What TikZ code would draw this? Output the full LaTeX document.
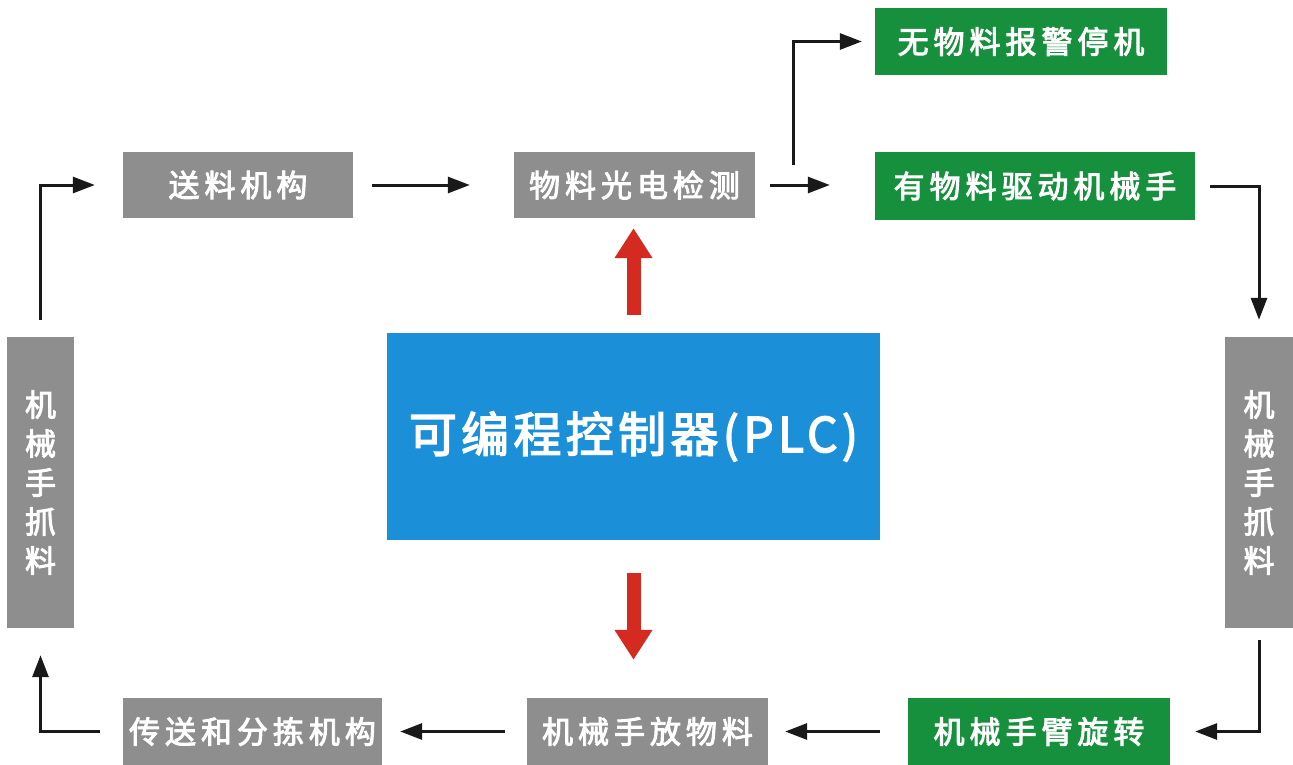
\documentclass[tikz,border=0pt]{standalone}
\usepackage{fontspec}
\newfontfamily\cjk[LetterSpace=16,FakeBold=3]{Noto Sans CJK SC}
\newfontfamily\cjkbig[LetterSpace=9,FakeBold=3]{Noto Sans CJK SC}
\usetikzlibrary{arrows.meta}
\definecolor{boxgray}{HTML}{8E8E8E}
\definecolor{boxgreen}{HTML}{17903E}
\definecolor{plcblue}{HTML}{1B8FD8}
\definecolor{redarrow}{HTML}{D42A20}
\begin{document}
\begin{tikzpicture}[x=1pt,y=-1pt,
  lbl/.style={inner sep=0pt, text=white, font={\cjk\fontsize{31}{39}\selectfont}},
  graybox/.style={lbl, fill=boxgray},
  greenbox/.style={lbl, fill=boxgreen},
  vbox/.style={lbl, fill=boxgray, align=center, minimum width=67pt, minimum height=291pt},
  arr/.style={draw=black!90, line width=3pt, -{Triangle[length=22pt,width=16pt]}},
  redarr/.style={draw=redarrow, line width=14pt, -{Triangle[length=30pt,width=36pt]}}
]
\useasboundingbox[fill=white] (0,0) rectangle (1293,765);
% top row
\node[graybox, minimum width=230pt, minimum height=66pt] (n1) at (238,185) {送料机构};
\node[graybox, minimum width=241pt, minimum height=66pt] (n2) at (634.5,185) {物料光电检测};
\node[greenbox, minimum width=320pt, minimum height=67pt] (n3) at (1035,186) {有物料驱动机械手};
\node[greenbox, minimum width=292pt, minimum height=67pt] (n4) at (1021,41.5) {无物料报警停机};
% sides
\node[vbox] (l) at (40.5,482.5) {机\\械\\手\\抓\\料};
\node[vbox, minimum width=68pt] (r) at (1259,482.5) {机\\械\\手\\抓\\料};
% PLC
\node[inner sep=0pt, fill=plcblue, text=white, minimum width=493pt, minimum height=207pt,
  font={\cjkbig\fontsize{48}{54}\selectfont}] (plc) at (633.5,436.5) {可编程控制器(PLC)};
% bottom row
\node[greenbox, minimum width=262pt, minimum height=67pt] (b3) at (1039,731.5) {机械手臂旋转};
\node[graybox, minimum width=241pt, minimum height=67pt] (b2) at (647.5,731.5) {机械手放物料};
\node[graybox, minimum width=259pt, minimum height=67pt] (b1) at (252.5,731.5) {传送和分拣机构};
% connectors
\coordinate (br) at (793,165);
\draw[arr, shorten <=19pt, shorten >=44pt] (n1.east) -- (n2.west);
\draw[arr, shorten <=15pt, shorten >=45pt] (n2.east) -- (n2.east -| n3.west);
\draw[arr, shorten >=13pt] (br) |- (n4.west);
\draw[arr, shorten <=15pt, shorten >=17pt] (n3.east) -| (r.north);
\draw[arr, shorten <=12pt, shorten >=25pt] (r.south) |- (b3.east);
\draw[arr, shorten <=28pt, shorten >=17pt] (b3.west) -- (b2.east);
\draw[arr, shorten <=22pt, shorten >=18pt] (b2.west) -- (b1.east);
\draw[arr, shorten <=23pt, shorten >=27pt] (b1.west) -| (l.south);
\draw[arr, shorten <=17pt, shorten >=28pt] (l.north) |- (n1.west);
% red arrows
\draw[redarr, shorten <=18pt, shorten >=10pt] (plc.north) -- (plc.north |- n2.south);
\draw[redarr, shorten <=33pt, shorten >=38pt] (plc.south) -- (plc.south |- b2.north);
\end{tikzpicture}
\end{document}
